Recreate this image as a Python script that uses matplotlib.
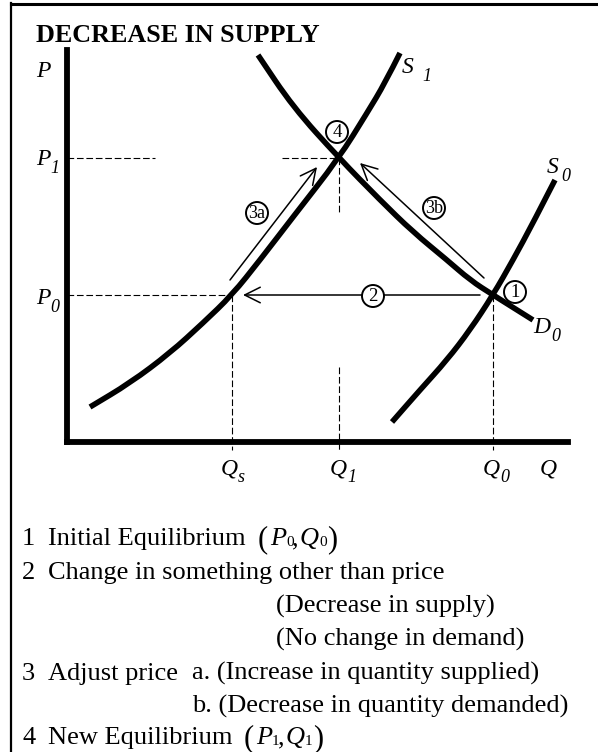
import matplotlib
matplotlib.use("Agg")
import matplotlib.pyplot as plt
from matplotlib.path import Path
from matplotlib.patches import PathPatch, Circle
from matplotlib.lines import Line2D

plt.rcParams["font.family"] = ["Liberation Serif", "DejaVu Serif"]

W, H = 598, 752

# equilibrium values (diagram units)
q_s, q_1, q_0 = 3.30, 5.44, 8.52
p_0, p_1 = 2.94, 5.68

# curves
s1_q = [0.46, 1.26, 2.06, 2.72, 3.30, 3.86, 4.52, 5.44, 6.00, 6.36, 6.66]
s1_p = [0.70, 1.18, 1.78, 2.38, 2.94, 3.64, 4.50, 5.68, 6.58, 7.18, 7.78]
s0_q = [6.50, 7.06, 7.60, 8.06, 8.52, 8.92, 9.32, 9.76]
s0_p = [0.40, 1.04, 1.64, 2.24, 2.94, 3.64, 4.38, 5.24]
d0_q = [3.82, 4.52, 5.44, 6.26, 6.92, 7.60, 8.06, 8.52, 9.32]
d0_p = [7.74, 6.70, 5.68, 4.84, 4.20, 3.64, 3.24, 2.94, 2.44]

# arrows: (start q, start p, end q, end p)
arrows = {
    "2": (8.26, 2.94, 3.52, 2.94),
    "3a": (3.26, 3.24, 5.00, 5.50),
    "3b": (8.34, 3.28, 5.86, 5.58),
}

# circled step numbers
step_labels = ["4", "3a", "3b", "1", "2"]
step_q = [5.40, 3.80, 7.34, 8.96, 6.12]
step_p = [6.20, 4.58, 4.68, 3.00, 2.92]

# axis / curve labels: (main, subscript, x, baseline y, subscript offset) in pixels
curve_labels = [
    ("P", "", 36, 77, 0),
    ("P", "1", 36, 165, 14),
    ("P", "0", 36, 304, 14),
    ("Q", "s", 221, 474, 17),
    ("Q", "1", 330, 474, 17),
    ("Q", "0", 483, 474, 17),
    ("Q", "", 540, 474, 0),
    ("S", "1", 402, 73, 20),
    ("S", "0", 547, 173, 14),
    ("D", "0", 533, 333, 18),
]

notes = [
    ("1", "Initial Equilibrium", None),
    ("2", "Change in something other than price", None),
    ("", "(Decrease in supply)", None),
    ("", "(No change in demand)", None),
    ("3", "Adjust price", "a. (Increase in quantity supplied)"),
    ("", "", "b. (Decrease in quantity demanded)"),
    ("4", "New Equilibrium", None),
]
note_y = [537, 571, 605, 638, 672, 705, 736]
pairs = {"1": ("0", 258), "4": ("1", 244)}


def smooth(xs, ys):
    pts = list(zip(xs, ys))
    verts = [pts[0]]
    codes = [Path.MOVETO]
    mid = ((pts[0][0] + pts[1][0]) / 2, (pts[0][1] + pts[1][1]) / 2)
    verts.append(mid)
    codes.append(Path.LINETO)
    for i in range(1, len(pts) - 1):
        nxt = ((pts[i][0] + pts[i + 1][0]) / 2, (pts[i][1] + pts[i + 1][1]) / 2)
        if i == len(pts) - 2:
            nxt = pts[i + 1]
        verts += [pts[i], nxt]
        codes += [Path.CURVE3, Path.CURVE3]
    return Path(verts, codes)


def fpos(x, y):
    return x / W, 1 - y / H


def put(x, y, s, **kw):
    kw.setdefault("ha", "left")
    kw.setdefault("va", "baseline")
    fig.text(*fpos(x, y), s, **kw)


fig = plt.figure(figsize=(W / 100, H / 100), dpi=100)
ax = fig.add_axes([67 / W, 310 / H, 501 / W, 392 / H])
ax.set_xlim(0, 10.02)
ax.set_ylim(0, 7.84)
ax.set_xticks([])
ax.set_yticks([])
ax.spines["top"].set_visible(False)
ax.spines["right"].set_visible(False)
for side in ["left", "bottom"]:
    ax.spines[side].set_linewidth(4.2)
    ax.spines[side].set_capstyle("projecting")
ax.patch.set_visible(False)

for xs, ys in [(s1_q, s1_p), (s0_q, s0_p), (d0_q, d0_p)]:
    ax.add_patch(PathPatch(smooth(xs, ys), fill=False, lw=4.0, ec="black",
                           capstyle="butt", clip_on=False, zorder=3))

dash = dict(color="black", lw=0.8, dashes=(6, 2.5), clip_on=False, zorder=2)
ax.plot([0, 1.76], [p_1, p_1], **dash)
ax.plot([4.30, q_1], [p_1, p_1], **dash)
ax.plot([q_1, q_1], [p_1, 4.58], **dash)
ax.plot([q_1, q_1], [1.50, -0.16], **dash)
ax.plot([0, q_s], [p_0, p_0], **dash)
ax.plot([q_s, q_s], [p_0, -0.16], **dash)
ax.plot([q_0, q_0], [p_0, -0.16], **dash)

for key, (x0, y0, x1, y1) in arrows.items():
    ax.annotate("", xy=(x1, y1), xytext=(x0, y0),
                arrowprops=dict(arrowstyle="->,head_length=0.8,head_width=0.4",
                                mutation_scale=14, lw=1.1, color="black",
                                shrinkA=0, shrinkB=0),
                annotation_clip=False, zorder=4)

for lab, q, p in zip(step_labels, step_q, step_p):
    ax.add_patch(Circle((q, p), 0.22, fc="white", ec="black", lw=1.4,
                        clip_on=False, zorder=5))
    ax.text(q, p - 0.01, lab, ha="center", va="center",
            fontsize=13.5 if len(lab) == 1 else 13, zorder=6)

# title and axis labels
put(36, 42, "DECREASE IN SUPPLY", fontsize=18.8, fontweight="bold")
for main, sub, x, y, dx in curve_labels:
    put(x, y, main, fontsize=17, style="italic")
    if sub:
        put(x + dx, y + 8, sub, fontsize=13, style="italic")

# notes below the chart
for (num, txt, extra), y in zip(notes, note_y):
    ty = y + 8
    if num:
        put(22, ty, num, fontsize=19)
    if txt:
        put(276 if txt.startswith("(") else 48, ty, txt, fontsize=19)
    if extra:
        put(192, ty, extra, fontsize=19)
    if num in pairs:
        s, x = pairs[num]
        put(x, ty + 2, "(", fontsize=22)
        put(x + 12, ty, "P", fontsize=19, style="italic")
        put(x + 28, ty + 1, s, fontsize=11)
        put(x + 34, ty, ",", fontsize=19)
        put(x + 42, ty, "Q", fontsize=19, style="italic")
        put(x + 61, ty + 1, s, fontsize=11)
        put(x + 69, ty + 2, ")", fontsize=22)

# frame lines (left and top)
fig.add_artist(Line2D([11 / W, 11 / W], [0, 1 - 3 / H], color="black", lw=1.6))
fig.add_artist(Line2D([11 / W, 1], [1 - 3.5 / H, 1 - 3.5 / H], color="black", lw=2.2))

fig.savefig("out.png", dpi=100)
